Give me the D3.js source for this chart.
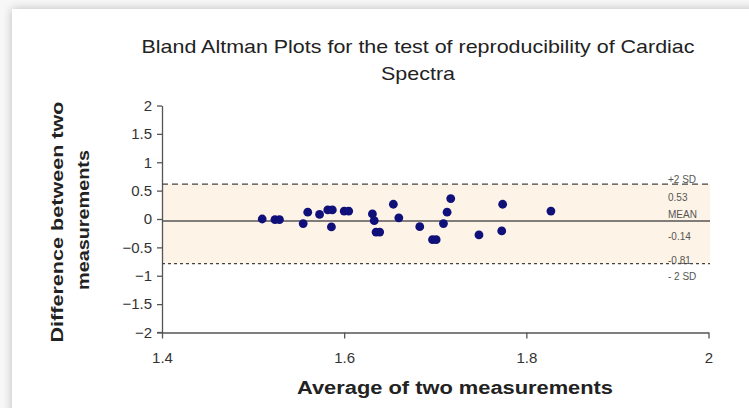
<!DOCTYPE html>
<html>
<head>
<meta charset="utf-8">
<script src="https://cdn.jsdelivr.net/npm/d3@7"></script>
<style>
  html, body { margin: 0; padding: 0; background: #fff; }
  svg { display: block; }
</style>
</head>
<body>
<div id="chart"></div>
<script>
"use strict";

// measurements: average of the two vs. their difference
const averages = [1.510, 1.524, 1.529, 1.555, 1.560, 1.573, 1.582, 1.587, 1.586,
  1.600, 1.605, 1.631, 1.633, 1.635, 1.639, 1.654, 1.660, 1.683, 1.697, 1.701,
  1.709, 1.713, 1.717, 1.748, 1.774, 1.773, 1.827];
const differences = [0.00, -0.01, -0.01, -0.08, 0.12, 0.08, 0.16, 0.16, -0.14,
  0.14, 0.14, 0.09, -0.03, -0.23, -0.23, 0.26, 0.02, -0.135, -0.365, -0.365,
  -0.08, 0.12, 0.36, -0.28, 0.26, -0.21, 0.14];

// reference lines (as drawn) and their labels
const lineValues = { upper: 0.615, mean: -0.035, lower: -0.785 };
const sideLabels = ["+2 SD", "0.53", "MEAN", "-0.14", "-0.81", "- 2 SD"];
const sideLabelValues = [0.64, 0.31, 0.01, -0.37, -0.79, -1.08];

const xTicks = [1.4, 1.6, 1.8, 2];
const yTicks = [2, 1.5, 1, 0.5, 0, -0.5, -1, -1.5, -2];

const W = 749, H = 408;
const svg = d3.select("#chart").append("svg")
  .attr("width", W).attr("height", H);

// page shadow around the card
const defs = svg.append("defs");
const f = defs.append("filter").attr("id", "shadow")
  .attr("x", "-5%").attr("y", "-5%").attr("width", "110%").attr("height", "110%");
f.append("feGaussianBlur").attr("in", "SourceAlpha").attr("stdDeviation", 5);
f.append("feOffset").attr("dx", 0).attr("dy", 0).attr("result", "b");
f.append("feComponentTransfer").append("feFuncA").attr("type", "linear").attr("slope", 0.25);
const fm = f.append("feMerge");
fm.append("feMergeNode");
fm.append("feMergeNode").attr("in", "SourceGraphic");

svg.append("rect").attr("width", W).attr("height", H).attr("fill", "#f7f7f7");
svg.append("rect").attr("x", 12).attr("y", 9).attr("width", W).attr("height", H)
  .attr("fill", "#fff").attr("filter", "url(#shadow)");

const x = d3.scaleLinear().domain([1.4, 2]).range([162, 708.5]);
const y = d3.scaleLinear().domain([-2, 2]).range([332.5, 105.5]);

// band between +/- 2 SD
svg.append("rect")
  .attr("x", x(1.4)).attr("y", y(lineValues.upper))
  .attr("width", 710 - x(1.4))
  .attr("height", y(lineValues.lower) - y(lineValues.upper))
  .attr("fill", "#fdf3e6");

// axes
const yAxis = svg.append("g")
  .attr("transform", `translate(${x(1.4)},0)`)
  .call(d3.axisLeft(y).tickValues(yTicks).tickSize(5).tickSizeOuter(0)
    .tickFormat(d3.format("")));
const xAxis = svg.append("g")
  .attr("transform", `translate(0,${y(-2)})`)
  .call(d3.axisBottom(x).tickValues(xTicks).tickSize(6).tickSizeOuter(0)
    .tickFormat(d3.format("")));

[yAxis, xAxis].forEach(g => {
  g.select(".domain").attr("stroke", "#555").attr("stroke-width", 1.3);
  g.selectAll(".tick line").attr("stroke", "#555").attr("stroke-width", 1.3);
  g.selectAll("text").attr("fill", "#333")
    .attr("font-family", "Liberation Sans, Arial, sans-serif")
    .attr("font-size", 15);
});
yAxis.selectAll("text").attr("x", -10);
xAxis.selectAll("text").attr("y", 20);
// little cross at the origin
svg.append("line").attr("x1", x(1.4) - 5).attr("x2", x(1.4))
  .attr("y1", y(-2)).attr("y2", y(-2)).attr("stroke", "#555").attr("stroke-width", 1.3);

// reference lines
svg.append("line")
  .attr("x1", x(1.4)).attr("x2", 710)
  .attr("y1", y(lineValues.upper)).attr("y2", y(lineValues.upper))
  .attr("stroke", "#444").attr("stroke-width", 1.3).attr("stroke-dasharray", "6,4");
svg.append("line")
  .attr("x1", x(1.4)).attr("x2", 710)
  .attr("y1", y(lineValues.lower)).attr("y2", y(lineValues.lower))
  .attr("stroke", "#444").attr("stroke-width", 1.3).attr("stroke-dasharray", "3,3");
svg.append("line")
  .attr("x1", x(1.4)).attr("x2", 710)
  .attr("y1", y(lineValues.mean)).attr("y2", y(lineValues.mean))
  .attr("stroke", "#555").attr("stroke-width", 1.3);

// side labels
svg.selectAll(".side").data(sideLabels).enter().append("text")
  .attr("class", "side")
  .attr("x", 668)
  .attr("y", (d, i) => y(sideLabelValues[i]))
  .attr("font-family", "Liberation Sans, Arial, sans-serif")
  .attr("font-size", 10)
  .attr("fill", "#555")
  .text(d => d);

// points
svg.selectAll(".pt").data(averages).enter().append("circle")
  .attr("class", "pt")
  .attr("cx", d => x(d))
  .attr("cy", (d, i) => y(differences[i]))
  .attr("r", 4.4)
  .attr("fill", "#10107a");

// squeeze text to the measured width; returns the ratio used
const fitText = (sel, len) => {
  const w = sel.node().getComputedTextLength();
  if (w > 0) sel.attr("textLength", len).attr("lengthAdjust", "spacingAndGlyphs");
  return w > 0 ? len / w : 1;
};

const t1 = svg.append("text").attr("x", 418).attr("y", 53)
  .attr("text-anchor", "middle").attr("font-family", "Liberation Sans, Arial, sans-serif")
  .attr("font-size", 19).attr("fill", "#222")
  .text("Bland Altman Plots for the test of reproducibility of Cardiac");
const ratio = fitText(t1, 553);
const t2 = svg.append("text").attr("x", 418).attr("y", 80)
  .attr("text-anchor", "middle").attr("font-family", "Liberation Sans, Arial, sans-serif")
  .attr("font-size", 19).attr("fill", "#222")
  .text("Spectra");
fitText(t2, t2.node().getComputedTextLength() * ratio);

const xl = svg.append("text").attr("x", 455).attr("y", 394)
  .attr("text-anchor", "middle").attr("font-family", "Liberation Sans, Arial, sans-serif")
  .attr("font-size", 18).attr("font-weight", "bold").attr("fill", "#222")
  .text("Average of two measurements");
fitText(xl, 316);

const yl1 = svg.append("text")
  .attr("transform", "translate(63,222) rotate(-90)")
  .attr("text-anchor", "middle").attr("font-family", "Liberation Sans, Arial, sans-serif")
  .attr("font-size", 17).attr("font-weight", "bold").attr("fill", "#222")
  .text("Difference between two");
fitText(yl1, 241);
const yl2 = svg.append("text")
  .attr("transform", "translate(89,220) rotate(-90)")
  .attr("text-anchor", "middle").attr("font-family", "Liberation Sans, Arial, sans-serif")
  .attr("font-size", 17).attr("font-weight", "bold").attr("fill", "#222")
  .text("measurements");
fitText(yl2, 140);
</script>
</body>
</html>
